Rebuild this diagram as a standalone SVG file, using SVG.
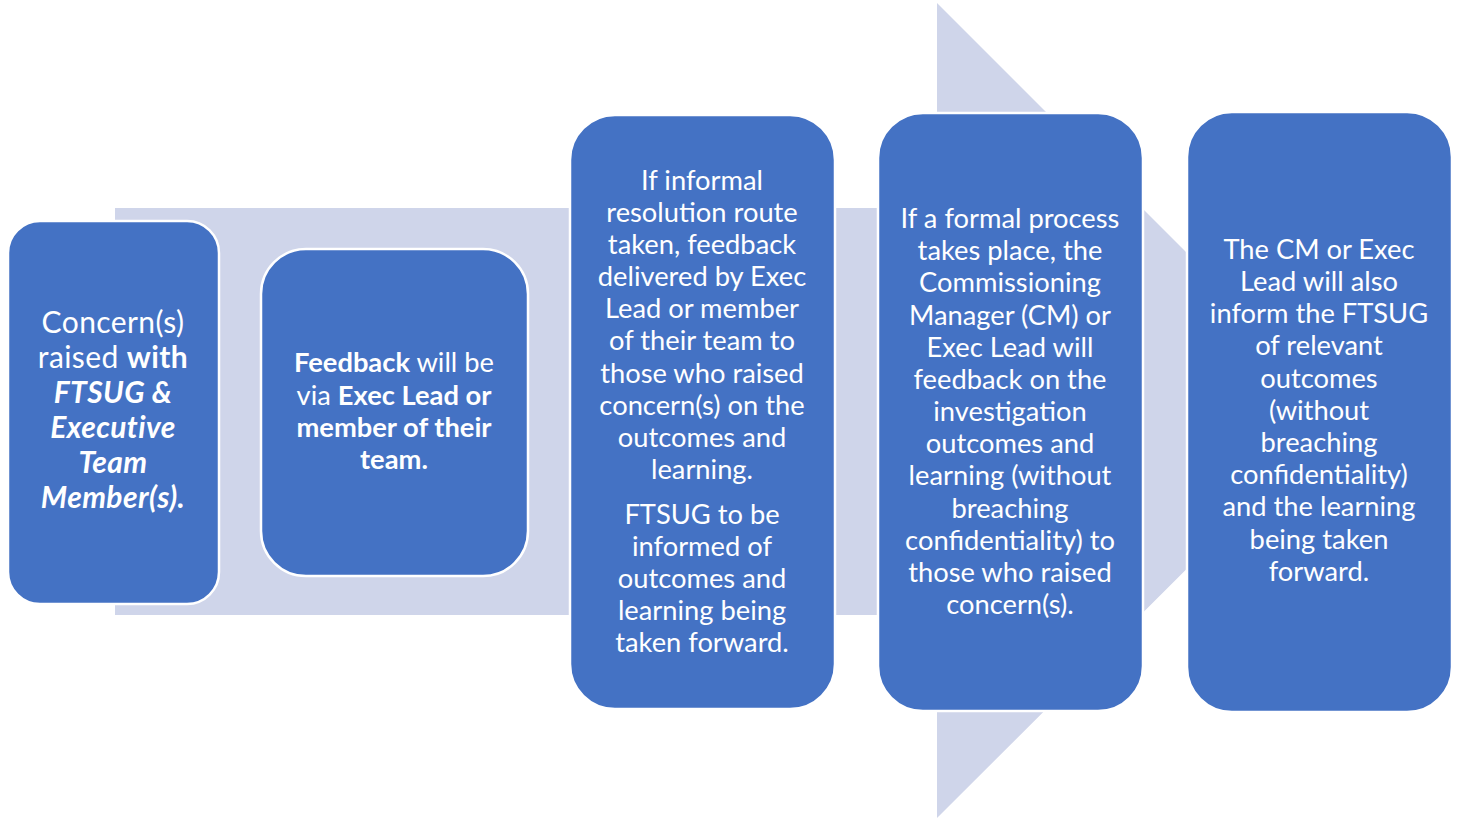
<svg xmlns="http://www.w3.org/2000/svg" width="1459" height="820" viewBox="0 0 1459 820">
  <style>
    .box { fill: #4472C4; stroke: #FFFFFF; stroke-width: 2.5; }
    .arrow { fill: #CFD5EA; }
    text { font-family: Lato, "Open Sans", "Liberation Sans", sans-serif; fill: #FFFFFF; text-anchor: middle; font-size: 27.3px; }
    .big { font-size: 30px; letter-spacing: 0.4px; }
    .b { font-weight: bold; }
    .bi { font-weight: bold; font-style: italic; }
  </style>
  <rect width="1459" height="820" fill="#FFFFFF"/>

  <!-- background process arrow -->
  <g id="connectors">
    <path class="arrow" d="M115,208 H937 V3 L1345,411 L937,818 V615 H115 Z"/>
  </g>

  <g id="step1">
    <rect class="box" x="8" y="221" width="211" height="383" rx="32"/>
    <text class="big" x="113" y="333">Concern(s)</text>
    <text class="big" x="113" y="368">raised <tspan class="b">with</tspan></text>
    <text class="big bi" x="113" y="403">FTSUG &amp;</text>
    <text class="big bi" x="113" y="438">Executive</text>
    <text class="big bi" x="113" y="473">Team</text>
    <text class="big bi" x="113" y="508">Member(s).</text>
  </g>

  <g id="step2">
    <rect class="box" x="261" y="249" width="267" height="327" rx="45"/>
    <text x="394" y="372"><tspan class="b">Feedback</tspan> will be</text>
    <text x="394" y="405">via <tspan class="b">Exec Lead or</tspan></text>
    <text class="b" x="394" y="437">member of their</text>
    <text class="b" x="394" y="469">team.</text>
  </g>

  <g id="step3">
    <rect class="box" x="570" y="115" width="265" height="594" rx="45"/>
    <text x="702" y="190">If informal</text>
    <text x="702" y="222">resolution route</text>
    <text x="702" y="254">taken, feedback</text>
    <text x="702" y="286">delivered by Exec</text>
    <text x="702" y="318">Lead or member</text>
    <text x="702" y="350">of their team to</text>
    <text x="702" y="383">those who raised</text>
    <text x="702" y="415">concern(s) on the</text>
    <text x="702" y="447">outcomes and</text>
    <text x="702" y="479">learning.</text>
    <text x="702" y="524">FTSUG to be</text>
    <text x="702" y="556">informed of</text>
    <text x="702" y="588">outcomes and</text>
    <text x="702" y="620">learning being</text>
    <text x="702" y="652">taken forward.</text>
  </g>

  <g id="step4">
    <rect class="box" x="878" y="113" width="265" height="598" rx="45"/>
    <text x="1010" y="228">If a formal process</text>
    <text x="1010" y="260">takes place, the</text>
    <text x="1010" y="292">Commissioning</text>
    <text x="1010" y="325">Manager (CM) or</text>
    <text x="1010" y="357">Exec Lead will</text>
    <text x="1010" y="389">feedback on the</text>
    <text x="1010" y="421">investigation</text>
    <text x="1010" y="453">outcomes and</text>
    <text x="1010" y="485">learning (without</text>
    <text x="1010" y="518">breaching</text>
    <text x="1010" y="550">confidentiality) to</text>
    <text x="1010" y="582">those who raised</text>
    <text x="1010" y="614">concern(s).</text>
  </g>

  <g id="step5">
    <rect class="box" x="1187" y="112" width="265" height="600" rx="45"/>
    <text x="1319" y="259">The CM or Exec</text>
    <text x="1319" y="291">Lead will also</text>
    <text x="1319" y="323">inform the FTSUG</text>
    <text x="1319" y="355">of relevant</text>
    <text x="1319" y="388">outcomes</text>
    <text x="1319" y="420">(without</text>
    <text x="1319" y="452">breaching</text>
    <text x="1319" y="484">confidentiality)</text>
    <text x="1319" y="516">and the learning</text>
    <text x="1319" y="549">being taken</text>
    <text x="1319" y="581">forward.</text>
  </g>
</svg>
